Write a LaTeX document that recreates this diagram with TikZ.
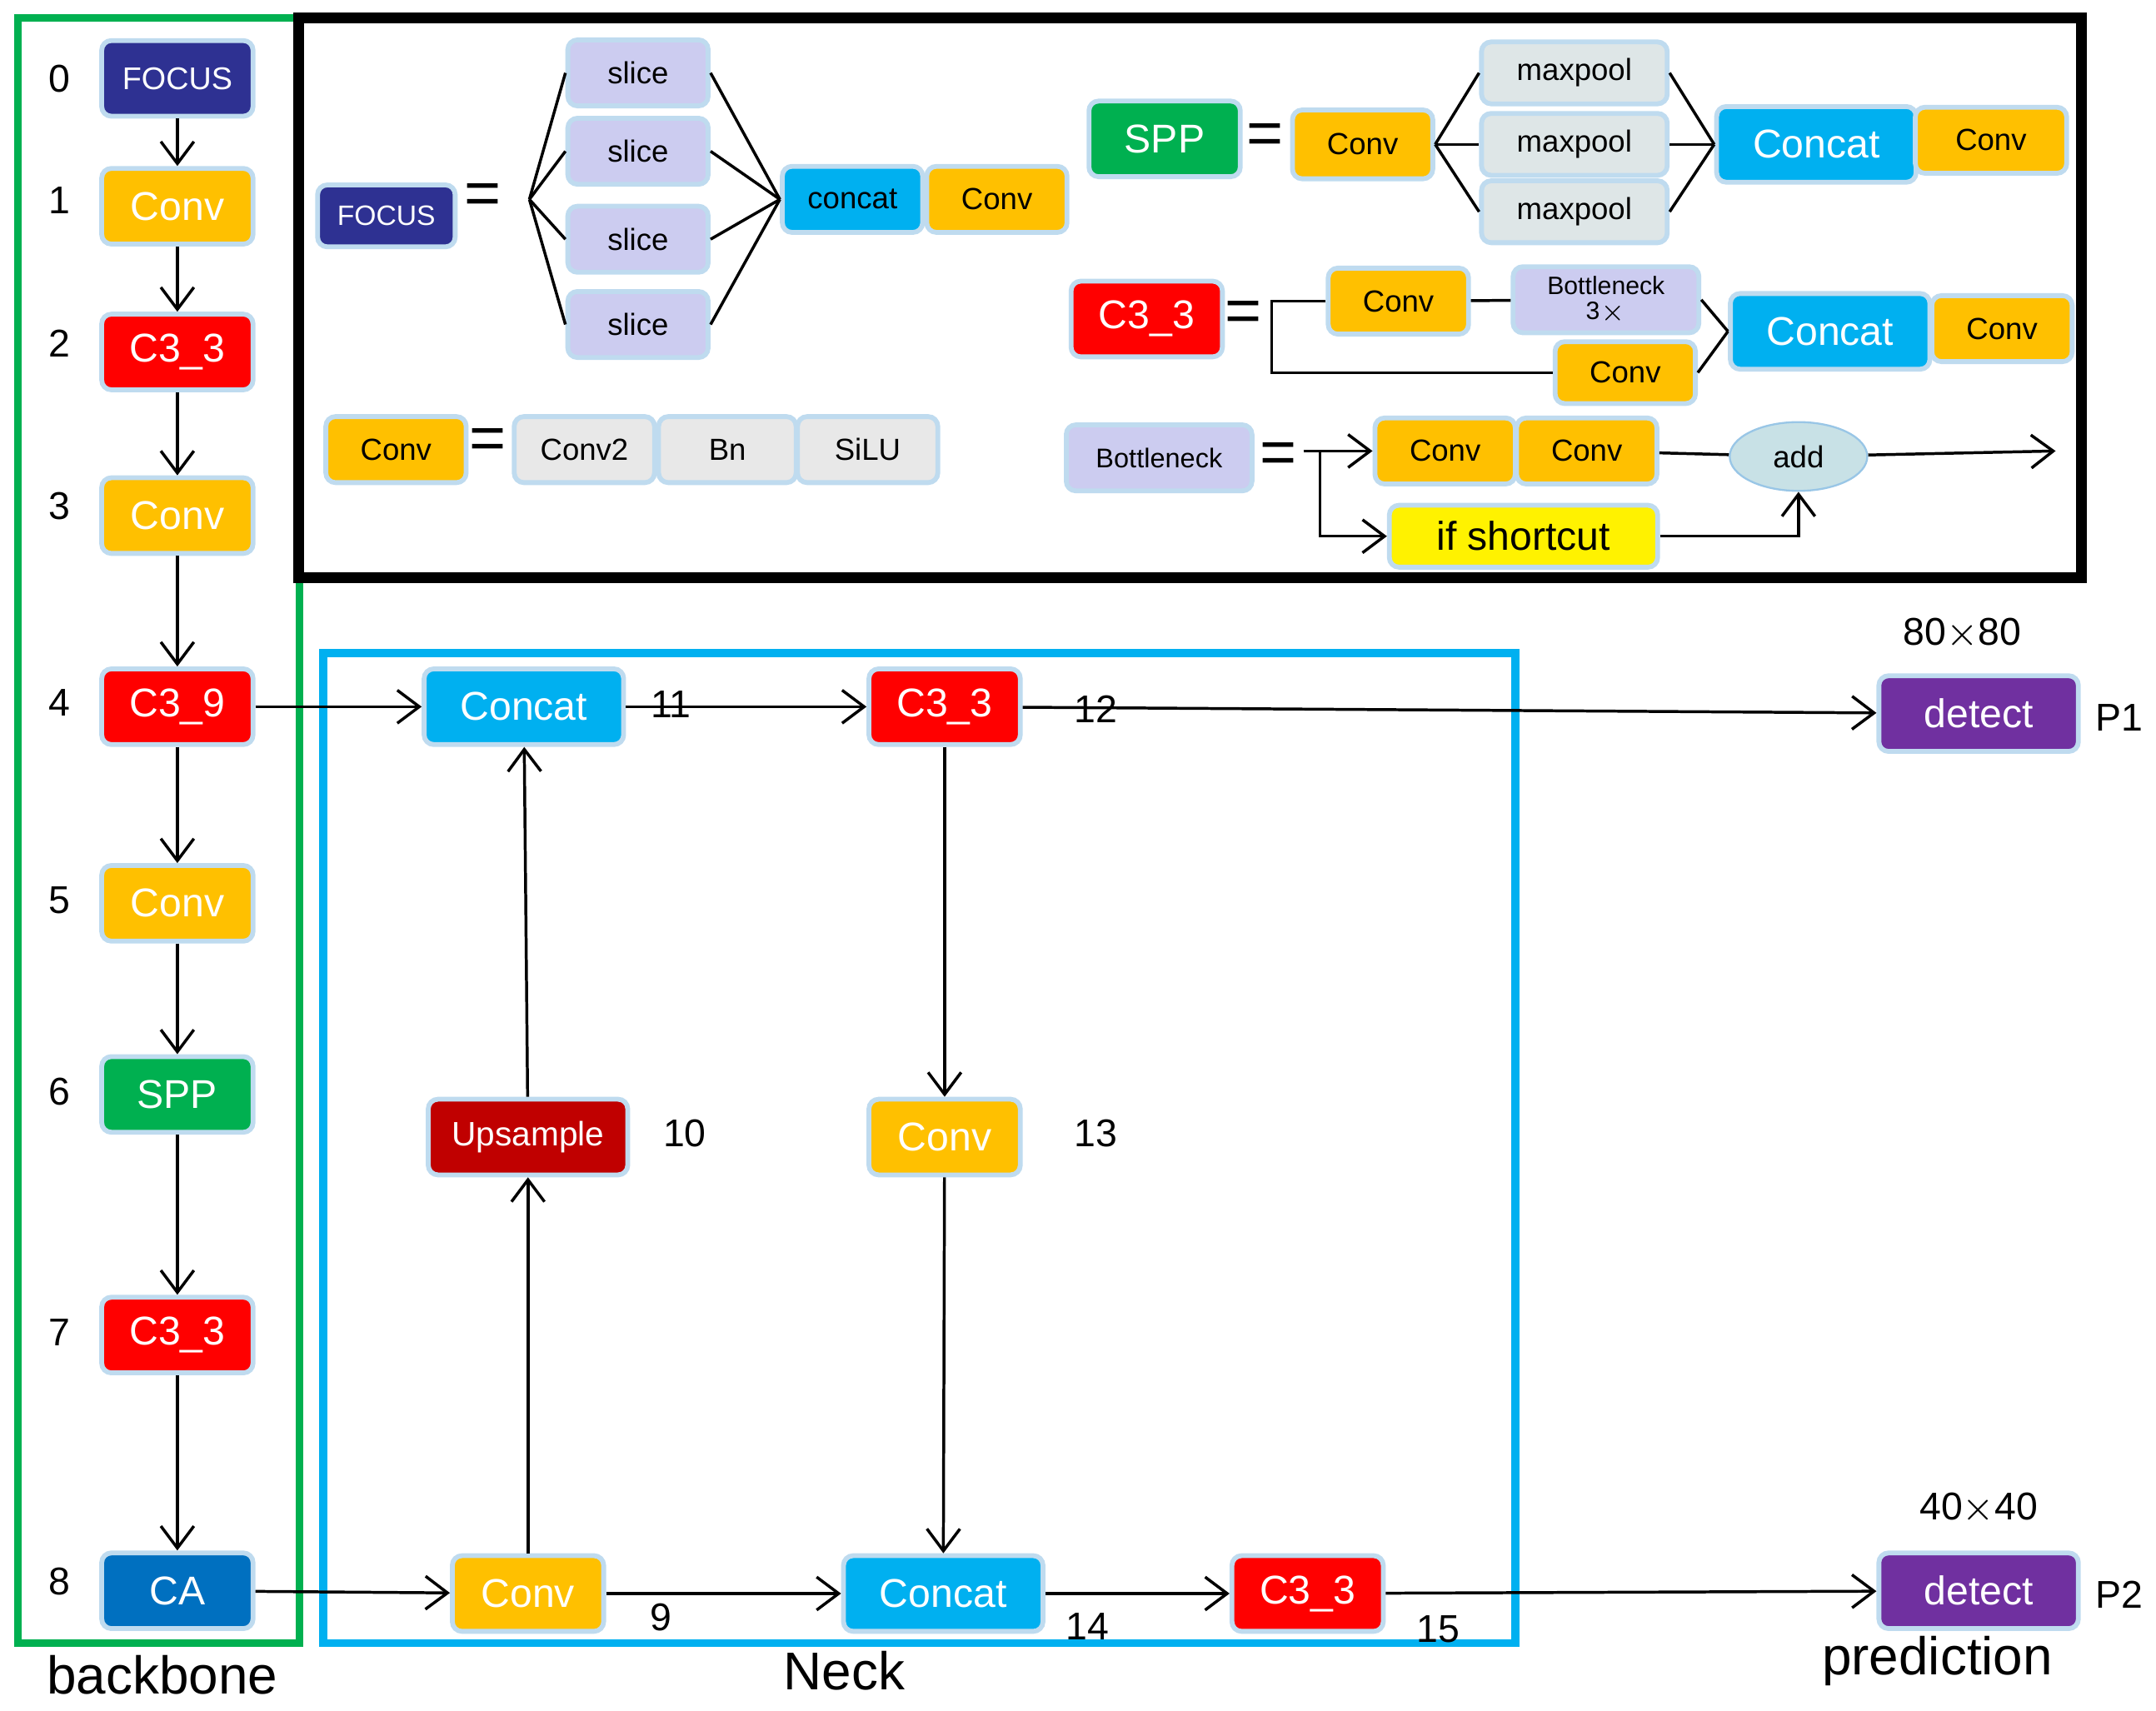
\documentclass[tikz,border=0pt]{standalone}
\usepackage{fontspec}
\setmainfont{Liberation Sans}
\usetikzlibrary{arrows.meta, shapes.geometric}
\definecolor{cfocus}{RGB}{46,49,146}
\definecolor{cconv}{RGB}{255,192,0}
\definecolor{cred}{RGB}{255,0,0}
\definecolor{cgreen}{RGB}{0,176,80}
\definecolor{cca}{RGB}{0,112,192}
\definecolor{ccat}{RGB}{0,176,240}
\definecolor{cup}{RGB}{192,0,0}
\definecolor{cdet}{RGB}{112,48,160}
\definecolor{clav}{RGB}{204,204,240}
\definecolor{cgray}{RGB}{232,232,232}
\definecolor{cadd}{RGB}{200,225,230}
\tikzset{
  box/.style={rectangle, rounded corners=2pt, draw=cca!25, line width=1pt,
    minimum width=1.1cm, minimum height=0.55cm, inner sep=1pt, font=\fontsize{8.3}{9}\selectfont},
  sbox/.style={box, minimum height=0.48cm, font=\fontsize{6.3}{7}\selectfont},
  lbl/.style={font=\fontsize{8}{9}\selectfont},
  arr/.style={-{Straight Barb[length=1.6mm,width=2.4mm]}, line width=0.6pt},
  ln/.style={line width=0.6pt},
  eq/.style={font=\fontsize{13}{13}\selectfont}
}
\begin{document}
\begin{tikzpicture}[x=0.01cm, y=-0.01cm]
    \useasboundingbox (0,0) rectangle (1568,1244);
    % frames
    \draw[cgreen, line width=1.6pt] (13,13) rectangle (218,1195);
    \draw[black, line width=2.2pt] (217,13) rectangle (1514,420);
    \draw[ccat, line width=1.6pt] (235,475) rectangle (1102,1195);

    % backbone
    \node[box, fill=cfocus, text=white, font=\fontsize{6.5}{7}\selectfont] (b0) at (129,57) {FOCUS};
    \node[box, fill=cconv, text=white] (b1) at (129,150) {Conv};
    \node[box, fill=cred, text=white] (b2) at (129,256) {C3\_3};
    \node[box, fill=cconv, text=white] (b3) at (129,375) {Conv};
    \node[box, fill=cred, text=white] (b4) at (129,514) {C3\_9};
    \node[box, fill=cconv, text=white] (b5) at (129,657) {Conv};
    \node[box, fill=cgreen, text=white] (b6) at (129,796) {SPP};
    \node[box, fill=cred, text=white] (b7) at (129,971) {C3\_3};
    \node[box, fill=cca, text=white] (b8) at (129,1157) {CA};
    \foreach \i/\y in {0/57,1/146,2/250,3/368,4/511,5/655,6/794,7/969,8/1150}
        \node[lbl] (n\i) at (43,\y) {\i};
    \foreach \a/\b in {b0/b1,b1/b2,b2/b3,b3/b4,b4/b5,b5/b6,b6/b7,b7/b8}
        \draw[arr] (\a) -- (\b);

    % neck
    \node[box, fill=ccat, text=white, minimum width=1.45cm] (cat11) at (381,514) {Concat};
    \node[box, fill=cred, text=white] (c12) at (687,514) {C3\_3};
    \node[box, fill=cup, text=white, minimum width=1.45cm, font=\fontsize{7}{8}\selectfont] (up10) at (384,827) {Upsample};
    \node[box, fill=cconv, text=white] (cv13) at (687,827) {Conv};
    \node[box, fill=cconv, text=white] (cv9) at (384,1159) {Conv};
    \node[box, fill=ccat, text=white, minimum width=1.45cm] (cat14) at (686,1159) {Concat};
    \node[box, fill=cred, text=white] (c15) at (951,1159) {C3\_3};
    \node[box, fill=cdet, text=white, minimum width=1.45cm] (d1) at (1439,519) {detect};
    \node[box, fill=cdet, text=white, minimum width=1.45cm] (d2) at (1439,1157) {detect};
    \draw[arr] (b4) -- (cat11);
    \draw[arr] (cat11) -- (c12);
    \draw[arr] (c12) -- (d1);
    \draw[arr] (c12) -- (cv13);
    \draw[arr] (cv13) -- (cat14);
    \draw[arr] (b8) -- (cv9);
    \draw[arr] (cv9) -- (cat14);
    \draw[arr] (cat14) -- (c15);
    \draw[arr] (c15) -- (d2);
    \draw[arr] (cv9) -- (up10);
    \draw[arr] (up10) -- (cat11);
    \node[lbl] (l11) at (488,512) {11};
    \node[lbl] (l12) at (797,516) {12};
    \node[lbl] (l10) at (498,824) {10};
    \node[lbl] (l13) at (797,824) {13};
    \node[lbl] (l9) at (481,1176) {9};
    \node[lbl] (l14) at (791,1183) {14};
    \node[lbl] (l15) at (1046,1185) {15};
    \node[lbl] (s1) at (1427,461) {80$\times$80};
    \node[lbl] (s2) at (1439,1097) {40$\times$40};
    \node[lbl] (p1) at (1541,522) {P1};
    \node[lbl] (p2) at (1541,1160) {P2};
    \node[font=\fontsize{11}{12}\selectfont] (tb) at (118,1218) {backbone};
    \node[font=\fontsize{11}{12}\selectfont] (tn) at (614,1215) {Neck};
    \node[font=\fontsize{11}{12}\selectfont] (tp) at (1409,1208) {prediction};

    % FOCUS
    \node[sbox, fill=cfocus, text=white, minimum width=1cm, minimum height=0.45cm, font=\fontsize{5.8}{7}\selectfont] (f) at (281,157) {FOCUS};
    \node[eq] (e1) at (351,145) {=};
    \coordinate (fo) at (385,145);
    \foreach \i/\y in {1/53,2/110,3/174,4/236}{
        \node[sbox, fill=clav, minimum width=1.02cm] (sl\i) at (464,\y) {slice};
        \draw[ln] (fo) -- (sl\i.west);
    }
    \node[sbox, fill=ccat, minimum width=1.02cm] (fcat) at (620,145) {concat};
    \node[sbox, fill=cconv, minimum width=1.02cm] (fconv) at (725,145) {Conv};
    \foreach \i in {1,...,4} \draw[ln] (sl\i.east) -- (fcat.west);

    % Conv
    \node[sbox, fill=cconv, minimum width=1.02cm] (cv) at (288,327) {Conv};
    \node[eq] (e2) at (355,323) {=};
    \node[sbox, fill=cgray, minimum width=1.02cm] (cv2) at (425,327) {Conv2};
    \node[sbox, fill=cgray, minimum width=1.0cm] (bn) at (529,327) {Bn};
    \node[sbox, fill=cgray, minimum width=1.02cm] (si) at (631,327) {SiLU};

    % SPP
    \node[box, fill=cgreen, text=white, minimum width=1.1cm] (spp) at (847,101) {SPP};
    \node[eq] (e3) at (920,101) {=};
    \node[sbox, fill=cconv, minimum width=1.02cm, minimum height=0.5cm] (scv) at (991,105) {Conv};
    \foreach \i/\y in {1/53,2/105,3/154}{
        \node[sbox, fill=cgray!70!cadd, minimum width=1.35cm, minimum height=0.45cm] (mp\i) at (1145,\y) {maxpool};
        \draw[ln] (scv.east) -- (mp\i.west);
    }
    \node[box, fill=ccat, text=white, minimum width=1.45cm] (scat) at (1321,105) {Concat};
    \node[sbox, fill=cconv, minimum width=1.1cm] (scv2) at (1448,102) {Conv};
    \foreach \i in {1,2,3} \draw[ln] (mp\i.east) -- (scat.west);

    % C3_3
    \node[box, fill=cred, text=white] (c3) at (834,232) {C3\_3};
    \node[eq] (e4) at (904,230) {=};
    \node[sbox, fill=cconv, minimum width=1.02cm] (c3a) at (1017,219) {Conv};
    \node[sbox, fill=clav, minimum width=1.35cm, align=center, font=\fontsize{5.2}{5.2}\selectfont] (bt) at (1168,218) {Bottleneck\\3$\times$};
    \node[sbox, fill=cconv, minimum width=1.02cm, minimum height=0.45cm] (c3b) at (1182,271) {Conv};
    \node[box, fill=ccat, text=white, minimum width=1.45cm] (c3cat) at (1331,241) {Concat};
    \node[sbox, fill=cconv, minimum width=1.02cm] (c3cv) at (1456,239) {Conv};
    \draw[ln] (c3a.west) -- (925,219) -- (925,271) -- (c3b.west);
    \draw[ln] (c3a) -- (bt);
    \draw[ln] (bt.east) -- (c3cat.west);
    \draw[ln] (c3b.east) -- (c3cat.west);

    % Bottleneck
    \node[sbox, fill=clav, minimum width=1.35cm, font=\fontsize{5.6}{7}\selectfont] (bk) at (843,333) {Bottleneck};
    \node[eq] (e5) at (930,333) {=};
    \node[sbox, fill=cconv, minimum width=1.02cm] (bka) at (1051,328) {Conv};
    \node[sbox, fill=cconv, minimum width=1.02cm] (bkb) at (1154,328) {Conv};
    \node[box, fill=yellow, minimum width=1.95cm, minimum height=0.45cm] (sc) at (1108,390) {if shortcut};
    \node[ellipse, draw=cca!40, fill=cadd, minimum width=1cm, minimum height=0.5cm, inner sep=0pt, font=\fontsize{6.3}{7}\selectfont] (add) at (1308,332) {add};
    \coordinate (bs) at (948,328);
    \coordinate (bo) at (1495,328);
    \draw[arr] (bs) -- (bka);
    \draw[arr] (960,328) -- (960,390) -- (sc.west);
    \draw[ln] (bkb) -- (add);
    \draw[arr] (add) -- (bo);
    \draw[arr] (sc.east) -| (add.south);
\end{tikzpicture}
\end{document}
